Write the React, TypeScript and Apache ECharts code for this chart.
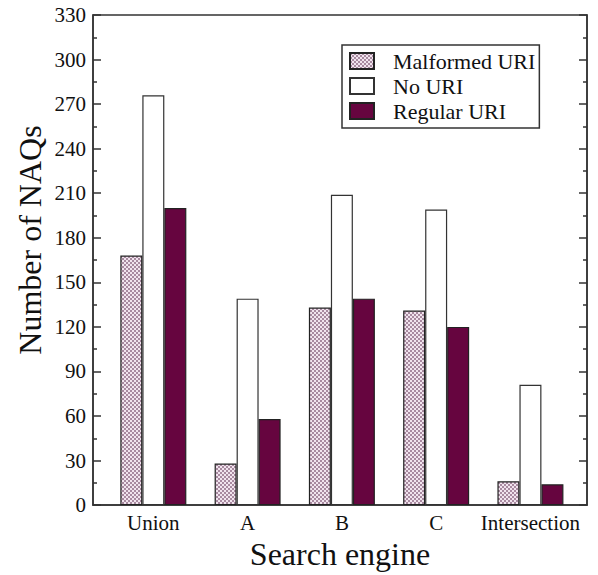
import React, { useEffect, useRef } from "react";
import * as echarts from "echarts";

const categories = ["Union", "A", "B", "C", "Intersection"];
const malformedURI = [168, 28, 133, 131, 16];
const noURI = [276, 139, 209, 199, 81];
const regularURI = [200, 58, 139, 120, 14];
const seriesNames = ["Malformed URI", "No URI", "Regular URI"];

function makePattern(): HTMLCanvasElement {
  const c = document.createElement("canvas");
  c.width = 4;
  c.height = 4;
  const ctx = c.getContext("2d")!;
  ctx.fillStyle = "#f1e4ee";
  ctx.fillRect(0, 0, 4, 4);
  ctx.fillStyle = "#a88aa0";
  ctx.fillRect(0, 0, 2, 2);
  ctx.fillRect(2, 2, 2, 2);
  return c;
}

export default function App() {
  const ref = useRef<HTMLDivElement>(null);
  useEffect(() => {
    document.body.style.margin = "0";
    const chart = echarts.init(ref.current!, null, { renderer: "svg" });
    const font = "'Liberation Serif', 'Times New Roman', Times, serif";
    const toData = (arr: number[]) => arr.map((v, i) => [i + 1, v]);
    const yAxisCommon = {
      type: "value" as const,
      min: 0,
      max: 330,
      interval: 30,
      axisLine: { show: true, lineStyle: { color: "#333", width: 1.5 } },
      axisTick: { show: true, inside: true, length: 8, lineStyle: { color: "#333", width: 1.5 } },
      minorTick: { show: true, splitNumber: 2, length: 4, lineStyle: { color: "#333", width: 1.5 } },
      splitLine: { show: false },
    };
    chart.setOption({
      animation: false,
      backgroundColor: "#fff",
      grid: {
        left: 93,
        right: 11,
        top: 15,
        bottom: 62,
        show: true,
        borderColor: "#333",
        borderWidth: 1.5,
        backgroundColor: "transparent",
      },
      legend: {
        orient: "vertical",
        left: 342,
        top: 45,
        padding: [5, 4, 6, 7],
        itemGap: 3,
        itemWidth: 24,
        itemHeight: 16,
        borderColor: "#333",
        borderWidth: 1.5,
        icon: "rect",
        data: seriesNames,
        textStyle: { fontFamily: font, fontSize: 22, color: "#111", padding: [0, 0, 0, 14] },
      },
      xAxis: {
        type: "value",
        min: 0.36,
        max: 5.6,
        name: "Search engine",
        nameLocation: "middle",
        nameGap: 27,
        nameTextStyle: { fontFamily: font, fontSize: 32, color: "#111" },
        axisLine: { show: true, lineStyle: { color: "#333", width: 1.5 } },
        axisTick: { show: false },
        splitLine: { show: false },
        axisLabel: {
          customValues: [1, 2, 3, 4, 5],
          formatter: (v: number) => categories[Math.round(v) - 1] ?? "",
          fontFamily: font,
          fontSize: 21,
          color: "#111",
          margin: 7,
        },
      },
      yAxis: [
        {
          ...yAxisCommon,
          position: "left",
          axisLabel: { fontFamily: font, fontSize: 21, color: "#111", margin: 7 },
        },
        {
          ...yAxisCommon,
          position: "right",
          axisLabel: { show: false },
        },
      ],
      graphic: [
        {
          type: "text",
          x: 30,
          y: 240,
          rotation: Math.PI / 2,
          style: {
            text: "Number of NAQs",
            fontFamily: font,
            fontSize: 32,
            fill: "#111",
            textAlign: "center",
            textVerticalAlign: "middle",
          },
        },
      ],
      series: [
        {
          name: seriesNames[0],
          type: "bar",
          barWidth: 22,
          barGap: "0%",
          data: toData(malformedURI),
          itemStyle: {
            color: { image: makePattern(), repeat: "repeat" },
            borderColor: "#222",
            borderWidth: 1.2,
          },
        },
        {
          name: seriesNames[1],
          type: "bar",
          barWidth: 22,
          barGap: "0%",
          data: toData(noURI),
          itemStyle: { color: "#ffffff", borderColor: "#333", borderWidth: 1.2 },
        },
        {
          name: seriesNames[2],
          type: "bar",
          barWidth: 22,
          barGap: "0%",
          data: toData(regularURI),
          itemStyle: { color: "#66053f", borderColor: "#222", borderWidth: 1.2 },
        },
      ],
    });
    return () => chart.dispose();
  }, []);
  return <div ref={ref} style={{ width: 598, height: 575 }} />;
}
